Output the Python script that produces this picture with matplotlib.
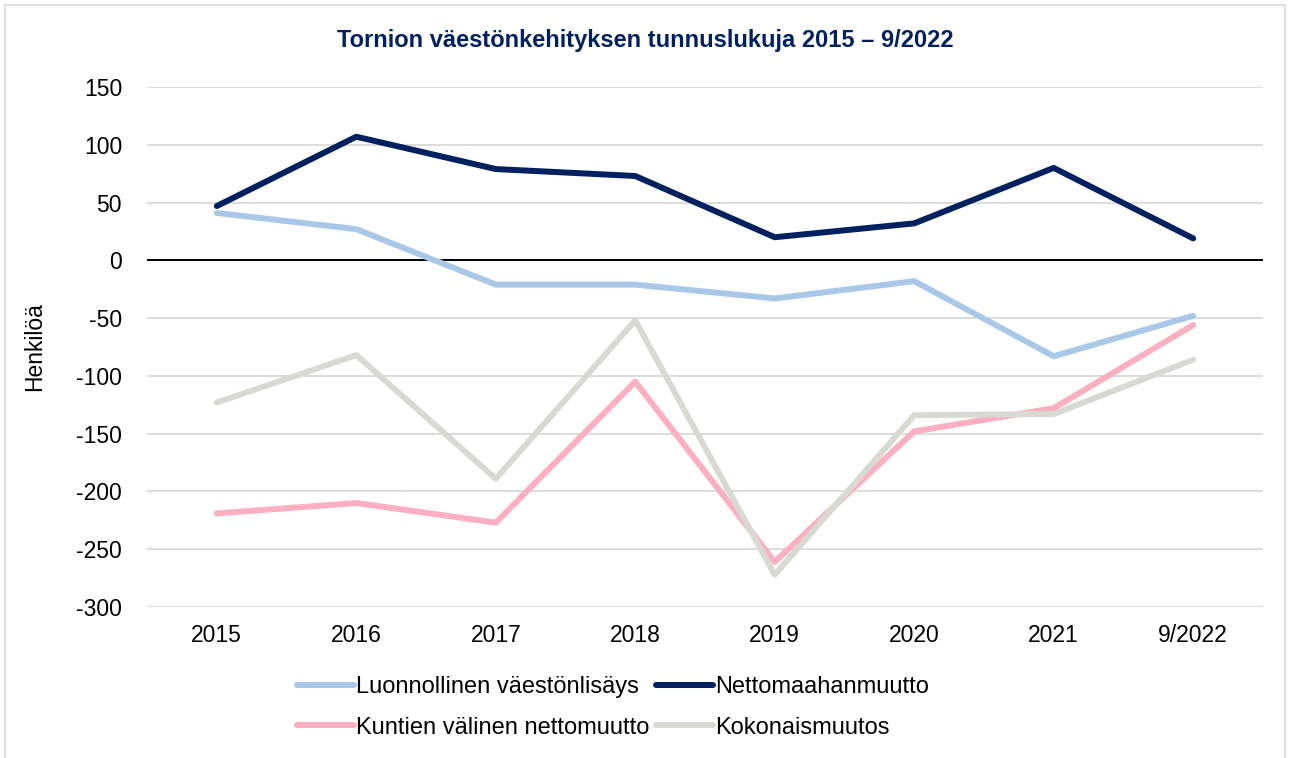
import matplotlib
matplotlib.use('Agg')
import matplotlib.pyplot as plt
from matplotlib.patches import Rectangle

plt.rcParams['font.family'] = ['Liberation Sans', 'DejaVu Sans']
plt.rcParams['axes.unicode_minus'] = False

years = ['2015', '2016', '2017', '2018', '2019', '2020', '2021', '9/2022']
luonnollinen = [41, 27, -21, -21, -33, -18, -83, -48]
nettomaahanmuutto = [47, 107, 79, 73, 20, 32, 80, 19]
kuntien = [-219, -210, -227, -105, -261, -148, -128, -56]
kokonais = [-123, -82, -189, -52, -272, -134, -133, -86]

fig = plt.figure(figsize=(12.9, 7.58), dpi=100)
fig.patches.append(Rectangle((0.004, -0.01), 0.992, 1.003, transform=fig.transFigure,
                             fill=False, edgecolor='#D9D9D9', linewidth=1.2))
ax = fig.add_axes([0.114, 0.1992, 0.865, 0.686])

x = list(range(len(years)))
lw = 4.3
style = dict(lw=lw, solid_capstyle='round', solid_joinstyle='round', zorder=3)
l1, = ax.plot(x, luonnollinen, color='#A9C8E8', label='Luonnollinen väestönlisäys', **style)
l2, = ax.plot(x, nettomaahanmuutto, color='#002060', label='Nettomaahanmuutto', **style)
l3, = ax.plot(x, kuntien, color='#FBAFC0', label='Kuntien välinen nettomuutto', **style)
l4, = ax.plot(x, kokonais, color='#D9D9D4', label='Kokonaismuutos', **style)

ax.axhline(0, color='black', lw=1.4, zorder=2)
ax.set_xlim(-0.5, 7.5)
ax.set_ylim(-300, 150)
ax.set_yticks(range(-300, 151, 50))
ax.set_xticks(x)
ax.set_xticklabels(years)
ax.grid(axis='y', color='#D9D9D9', lw=1.3, zorder=1)
ax.set_axisbelow(True)
for s in ax.spines.values():
    s.set_visible(False)
ax.tick_params(axis='both', length=0, labelsize=16.5, colors='black')
ax.tick_params(axis='y', pad=18)
ax.tick_params(axis='x', pad=12)
ax.set_ylabel('Henkilöä', fontsize=16.5, labelpad=22)

fig.text(0.5, 0.947, 'Tornion väestönkehityksen tunnuslukuja 2015 – 9/2022',
         ha='center', va='center', fontsize=17, fontweight='bold', color='#002060')

fig.legend(handles=[l1, l3, l2, l4], ncol=2, loc='center left',
           bbox_to_anchor=(0.221, 0.067), frameon=False, fontsize=17,
           handlelength=2.4, handletextpad=0.1, columnspacing=0.3, labelspacing=0.8,
           borderpad=0)

fig.savefig('out.png', dpi=100)
